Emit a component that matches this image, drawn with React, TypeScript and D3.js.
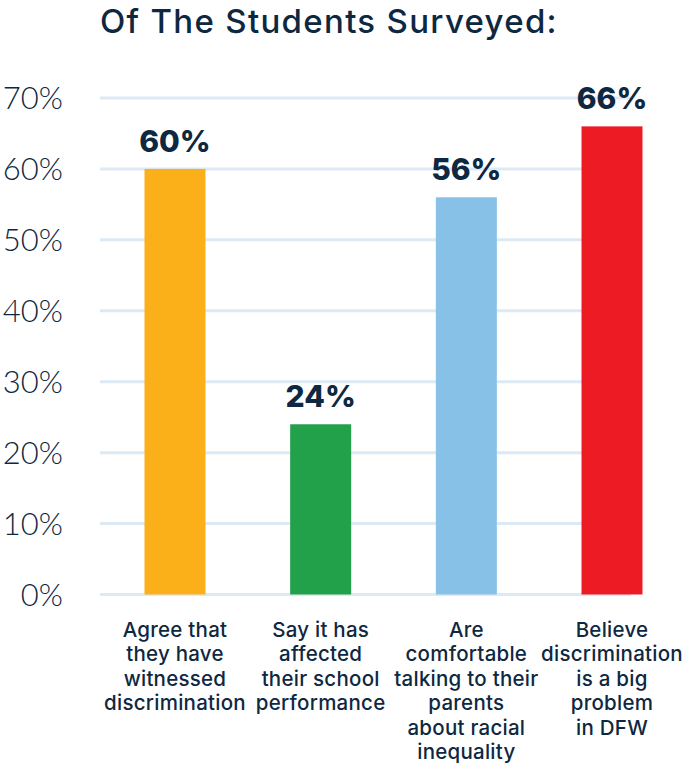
import React from "react";
import * as d3 from "d3";

const title = "Of The Students Surveyed:";
const categories = [
  "Agree that\nthey have\nwitnessed\ndiscrimination",
  "Say it has\naffected\ntheir school\nperformance",
  "Are\ncomfortable\ntalking to their\nparents\nabout racial\ninequality",
  "Believe\ndiscrimination\nis a big\nproblem\nin DFW",
];
const values = [60, 24, 56, 66];
const valueLabels = ["60%", "24%", "56%", "66%"];
const colors = ["#FBB01A", "#23A04A", "#88C1E8", "#ED1C24"];
const yTicks = [0, 10, 20, 30, 40, 50, 60, 70];

const W = 682;
const H = 766;
const navy = "#0E2841";
const font = "Inter, 'Noto Sans', sans-serif";
const tickFont = "Lato, 'Noto Sans', sans-serif";

export default function App() {
  const y = d3.scaleLinear().domain([0, 70]).range([594.5, 98]);
  const x = d3.scalePoint<string>().domain(categories).range([175, 612]);
  const barW = 61;

  return (
    <svg width={W} height={H} style={{ position: "absolute", left: 0, top: 0 }}>
      <rect width={W} height={H} fill="#fff" />
      <text x={100} y={33} fontFamily={font} fontWeight={500} fontSize={33} letterSpacing={1.3} fill={navy}>
        {title}
      </text>
      {yTicks.map((t) => (
        <g key={t}>
          <line x1={100} x2={631} y1={y(t)} y2={y(t)} stroke="#DDEAF6" strokeWidth={3} />
          <text
            x={63}
            y={y(t)}
            dy="0.36em"
            textAnchor="end"
            fontFamily={tickFont}
            fontWeight={300}
            fontSize={31}
            fill={navy}
          >
            {t}%
          </text>
        </g>
      ))}
      {categories.map((c, i) => {
        const cx = x(c)!;
        return (
          <g key={c}>
            <rect x={cx - barW / 2} y={y(values[i])} width={barW} height={y(0) - y(values[i])} fill={colors[i]} />
            <text
              x={cx}
              y={y(values[i]) - 17}
              textAnchor="middle"
              fontFamily={font}
              fontWeight={800}
              fontSize={30}
              fill={navy}
            >
              {valueLabels[i]}
            </text>
            <text
              textAnchor="middle"
              fontFamily={font}
              fontWeight={500}
              fontSize={20.5}
              letterSpacing={0.25}
              fill={navy}
            >
              {c.split("\n").map((line, j) => (
                <tspan key={j} x={cx} y={637 + j * 24.4}>
                  {line}
                </tspan>
              ))}
            </text>
          </g>
        );
      })}
    </svg>
  );
}
